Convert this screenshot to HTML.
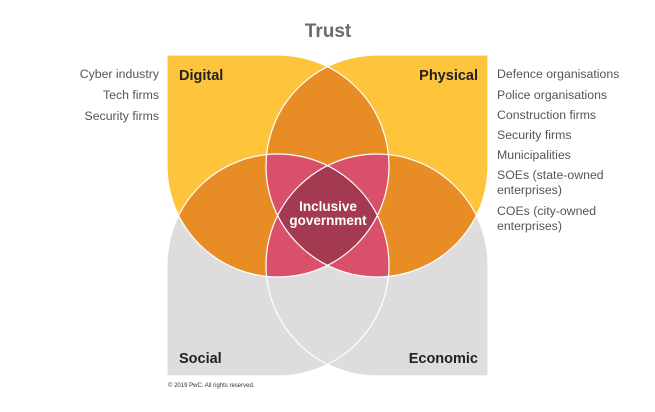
<!DOCTYPE html>
<html><head><meta charset="utf-8"><style>
html,body{margin:0;padding:0;background:#fff;width:655px;height:412px;overflow:hidden}
svg{display:block}
text{font-family:"Liberation Sans",Arial,sans-serif}
</style></head><body>
<svg width="655" height="412" viewBox="0 0 655 412" xmlns="http://www.w3.org/2000/svg">
<defs>
<path id="D" d="M167,55 H278 A111,111 0 0 1 389,166 A111,111 0 0 1 278,277 A111,111 0 0 1 167,166 Z"/>
<path id="P" d="M488,55 V166 A111,111 0 0 1 377,277 A111,111 0 0 1 266,166 A111,111 0 0 1 377,55 Z"/>
<path id="S" d="M167,376 V265 A111,111 0 0 1 278,154 A111,111 0 0 1 389,265 A111,111 0 0 1 278,376 Z"/>
<path id="E" d="M488,376 H377 A111,111 0 0 1 266,265 A111,111 0 0 1 377,154 A111,111 0 0 1 488,265 Z"/>
<clipPath id="cD"><use href="#D"/></clipPath>
<clipPath id="cP"><use href="#P"/></clipPath>
<clipPath id="cS"><use href="#S"/></clipPath>
<clipPath id="cE"><use href="#E"/></clipPath>
</defs>
<use href="#S" fill="#dedcdc"/>
<use href="#E" fill="#dedcdc"/>
<use href="#D" fill="#fec53c"/>
<use href="#P" fill="#fec53c"/>
<g clip-path="url(#cD)"><use href="#P" fill="#e88c26"/><use href="#S" fill="#e88c26"/></g>
<g clip-path="url(#cP)"><use href="#E" fill="#e88c26"/></g>
<g clip-path="url(#cD)"><g clip-path="url(#cP)"><use href="#S" fill="#d9506a"/><use href="#E" fill="#d9506a"/></g></g>
<g clip-path="url(#cS)"><g clip-path="url(#cE)"><use href="#D" fill="#d9506a"/><use href="#P" fill="#d9506a"/></g></g>
<g clip-path="url(#cD)"><g clip-path="url(#cP)"><g clip-path="url(#cS)"><use href="#E" fill="#a33a52"/></g></g></g>
<g fill="none" stroke="#fff" stroke-width="1.2">
<use href="#D"/><use href="#P"/><use href="#S"/><use href="#E"/>
</g>
<text x="328" y="37" text-anchor="middle" font-size="19" font-weight="bold" fill="#6b6b6b">Trust</text>
<g font-size="14.5" font-weight="bold" fill="#222">
<text x="179" y="80">Digital</text>
<text x="478" y="80" text-anchor="end">Physical</text>
<text x="179" y="363">Social</text>
<text x="478" y="363" text-anchor="end">Economic</text>
</g>
<g font-size="13.5" font-weight="bold" fill="#fff" text-anchor="middle">
<text x="328" y="211">Inclusive</text>
<text x="328" y="225">government</text>
</g>
<g font-size="12.3" fill="#555" text-anchor="end">
<text x="159" y="78">Cyber industry</text>
<text x="159" y="99">Tech firms</text>
<text x="159" y="120">Security firms</text>
</g>
<g font-size="12.3" fill="#555">
<text x="497" y="78">Defence organisations</text>
<text x="497" y="99">Police organisations</text>
<text x="497" y="119">Construction firms</text>
<text x="497" y="139">Security firms</text>
<text x="497" y="159">Municipalities</text>
<text x="497" y="179">SOEs (state-owned</text>
<text x="497" y="194">enterprises)</text>
<text x="497" y="215">COEs (city-owned</text>
<text x="497" y="230">enterprises)</text>
</g>
<text x="168" y="387" font-size="6" fill="#333">© 2019 PwC. All rights reserved.</text>
</svg>
</body></html>
